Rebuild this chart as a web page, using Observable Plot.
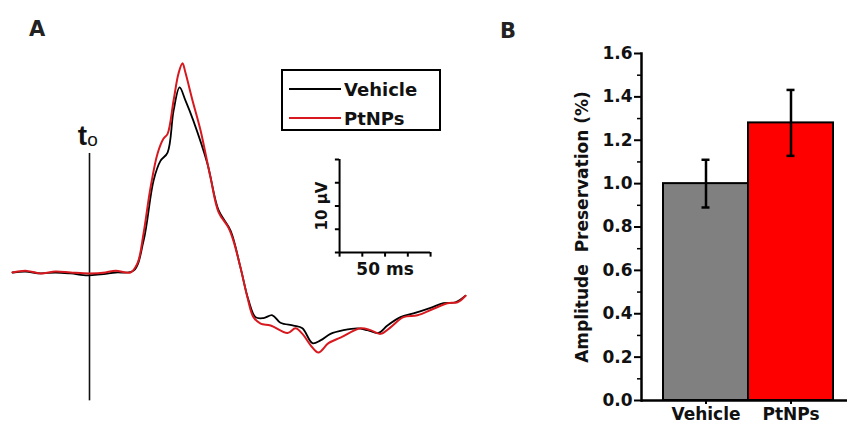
<!DOCTYPE html>
<html>
<head>
<meta charset="utf-8">
<script src="https://cdn.jsdelivr.net/npm/d3@7"></script>
<script src="https://cdn.jsdelivr.net/npm/@observablehq/plot@0.6"></script>
<style>
  html, body { margin: 0; padding: 0; background: #fff; }
  #wrap { position: relative; width: 847px; height: 425px; overflow: hidden; font-family: "DejaVu Sans", sans-serif; }
  .panel { position: absolute; top: 0; }
  .plabel { position: absolute; font-weight: bold; font-size: 21px; color: #222; }
  #legend { position: absolute; left: 281px; top: 69px; width: 156px; height: 58px; border: 2px solid #000; box-sizing: content-box; }
  .lrow { position: absolute; left: 6px; height: 22px; display: flex; align-items: center; font-weight: bold; font-size: 18px; color: #111; }
  .lrow span.sw { display: inline-block; width: 52px; height: 0; border-top: 2px solid; margin-right: 3px; }
</style>
</head>
<body>
<div id="wrap">
  <div id="panelA" class="panel" style="left:0"></div>
  <div id="panelB" class="panel" style="left:500px"></div>
  <div class="plabel" style="left:29px;top:17px">A</div>
  <div class="plabel" style="left:500px;top:19px">B</div>
  <div id="legend">
    <div class="lrow" style="top:7px"><span class="sw" style="border-color:#000"></span>Vehicle</div>
    <div class="lrow" style="top:36px"><span class="sw" style="border-color:#d7191f"></span>PtNPs</div>
  </div>
</div>
<script>
// ---------- Panel A data: field potential traces (time in ms from t0, amplitude in µV) ----------
const vehicleT = [-42.3,-35.2,-26.9,-18.7,-10.4,-1.1,6.0,14.3,24.2,29.7,35.2,39.0,42.9,46.2,49.5,52.7,57.1,64.8,70.9,77.5,83.0,87.4,91.2,95.6,100.5,104.9,112.1,117.0,122.5,126.9,132.4,139.6,147.3,152.7,158.8,163.7,170.9,178.0,187.4,194.5,201.1,206.6];
const vehicleV = [0,0.1,-0.1,0,-0.1,-0.3,-0.2,0,0.2,3.4,9.9,12.0,12.9,17.4,19.9,18.5,16.3,11.7,6.7,4.5,0.5,-3.0,-4.8,-4.9,-4.6,-5.4,-5.7,-6.0,-7.6,-7.3,-6.6,-6.2,-6.0,-6.2,-6.5,-5.7,-4.8,-4.4,-3.8,-3.3,-3.2,-2.5];
const ptnpsT = [-42.3,-35.2,-26.9,-18.7,-10.4,0,8.8,14.3,22.5,26.4,29.7,33.5,37.4,40.7,42.9,46.2,48.9,51.1,52.7,56.6,61.0,66.5,70.9,76.4,79.1,83.0,86.8,90.1,94.0,99.5,108.8,113.2,117.0,121.4,125.8,131.3,137.9,148.9,154.4,159.9,165.4,172.5,180.2,189.0,196.7,202.2,206.6];
const ptnpsV = [0,0.2,-0.1,0.1,0,-0.1,0,0.2,0,1.0,4.2,9.1,12.8,14.4,14.9,18.5,21.4,22.5,21.5,18.5,15.3,10.2,6.5,4.8,3.4,0.5,-2.7,-4.8,-5.5,-5.7,-6.5,-6.0,-6.6,-7.8,-8.6,-7.6,-7.0,-6.0,-6.2,-6.6,-5.9,-4.8,-4.6,-3.9,-3.3,-3.2,-2.5];
// scale bar: 50 ms x 10 µV
const scaleBarOrigin = {t: 137.4, v: 2.15};
const scaleBarMs = 50, scaleBarUV = 10;
const t0Span = [-13.8, 12.8];

// ---------- Panel B data ----------
const groups = ["Vehicle", "PtNPs"];
const means = [1.0, 1.28];
const sems = [0.11, 0.152];
const barColors = ["#808080", "#ff0000"];
const yTicks = [0, 0.2, 0.4, 0.6, 0.8, 1.0, 1.2, 1.4, 1.6];
const yLabel = "Amplitude  Preservation (%)";

const BOLD = "DejaVu Sans, sans-serif";
const REG = "Liberation Sans, Arial, sans-serif";

// ---------- Panel A ----------
const vehicle = vehicleT.map((t, i) => ({t, v: vehicleV[i]}));
const ptnps = ptnpsT.map((t, i) => ({t, v: ptnpsV[i]}));
const o = scaleBarOrigin;
const vTicks = d3.range(0, scaleBarUV + 0.01, scaleBarUV / 4).map(d => o.v + d);
const hTicks = d3.range(0, scaleBarMs + 0.01, scaleBarMs / 4).map(d => o.t + d);

const plotA = Plot.plot({
  width: 480, height: 425,
  style: {fontFamily: BOLD, background: "transparent", overflow: "visible"},
  x: {domain: [0, 50], range: [89, 180]},
  y: {domain: [0, 10], range: [272, 179]},
  axis: null,
  marks: [
    Plot.ruleX([0], {y1: t0Span[0], y2: t0Span[1], stroke: "#111", strokeWidth: 1.6}),
    Plot.text(["t"], {x: 0, y: t0Span[1], dx: -7, dy: -8, lineAnchor: "bottom", fontSize: 28, fontWeight: "bold", fontFamily: REG, fill: "#111"}),
    Plot.text(["o"], {x: 0, y: t0Span[1], dx: 3, dy: -7, lineAnchor: "bottom", fontSize: 19, fontFamily: REG, fill: "#111"}),
    Plot.line(vehicle, {x: "t", y: "v", stroke: "#000", strokeWidth: 1.8, curve: "catmull-rom"}),
    Plot.line(ptnps, {x: "t", y: "v", stroke: "#d7191f", strokeWidth: 2, curve: "catmull-rom"}),
    // scale bar
    Plot.ruleX([o.t], {y1: o.v, y2: o.v + scaleBarUV, stroke: "#000", strokeWidth: 2}),
    Plot.ruleY([o.v], {x1: o.t, x2: o.t + scaleBarMs, stroke: "#000", strokeWidth: 2}),
    Plot.ruleY(vTicks, {y: d => d, x1: o.t - 2.3, x2: o.t, stroke: "#000", strokeWidth: 2}),
    Plot.ruleX(hTicks, {x: d => d, y1: o.v, y2: o.v - 0.5, stroke: "#000", strokeWidth: 2}),
    Plot.text([`${scaleBarUV} µV`], {x: o.t, y: o.v + scaleBarUV / 2, dx: -17, rotate: -90, fontSize: 15, fontWeight: "bold", fill: "#111"}),
    Plot.text([`${scaleBarMs} ms`], {x: o.t + scaleBarMs / 2, y: o.v, dy: 17, fontSize: 17, fontWeight: "bold", fill: "#111"})
  ]
});
document.getElementById("panelA").appendChild(plotA);

// ---------- Panel B ----------
const bars = groups.map((g, i) => ({group: g, mean: means[i], lo: means[i] - sems[i], hi: means[i] + sems[i], color: barColors[i]}));
const plotB = Plot.plot({
  width: 347, height: 425,
  marginLeft: 141, marginRight: 0, marginTop: 53, marginBottom: 25,
  style: {fontFamily: BOLD, background: "transparent", overflow: "visible"},
  x: {domain: groups, padding: 0, insetLeft: 21, insetRight: 14, axis: null},
  y: {domain: [0, 1.6], axis: null},
  marks: [
    Plot.barY(bars, {x: "group", y: "mean", fill: "color", stroke: "#000", strokeWidth: 2}),
    Plot.ruleX(bars, {x: "group", y1: "lo", y2: "hi", stroke: "#000", strokeWidth: 2.5}),
    Plot.tickY(bars, {x: "group", y: "hi", stroke: "#000", strokeWidth: 2.5, inset: 38.5}),
    Plot.tickY(bars, {x: "group", y: "lo", stroke: "#000", strokeWidth: 2.5, inset: 38.5}),
    Plot.axisY({ticks: yTicks, tickSize: 7, tickFormat: d3.format(".1f"), tickPadding: 2, fontSize: 17, fontWeight: "bold", fill: "#111", stroke: "#000", strokeWidth: 2, label: null}),
    Plot.axisY({ticks: d3.range(0.1, 1.6, 0.2), tickSize: 4, tickFormat: null, text: null, stroke: "#000", strokeWidth: 1.5, label: null}),
    Plot.axisX({tickSize: 4, tickPadding: 3, fontSize: 17, fontWeight: "bold", fill: "#111", stroke: "#000", strokeWidth: 2, label: null}),
    Plot.ruleY([0], {stroke: "#000", strokeWidth: 2.5}),
    Plot.frame({anchor: "left", stroke: "#000", strokeWidth: 2.5}),
    Plot.text([yLabel], {frameAnchor: "left", dx: -59, rotate: -90, textAnchor: "middle", fontSize: 17, fontWeight: "bold", fill: "#111"})
  ]
});
document.getElementById("panelB").appendChild(plotB);
</script>
</body>
</html>
